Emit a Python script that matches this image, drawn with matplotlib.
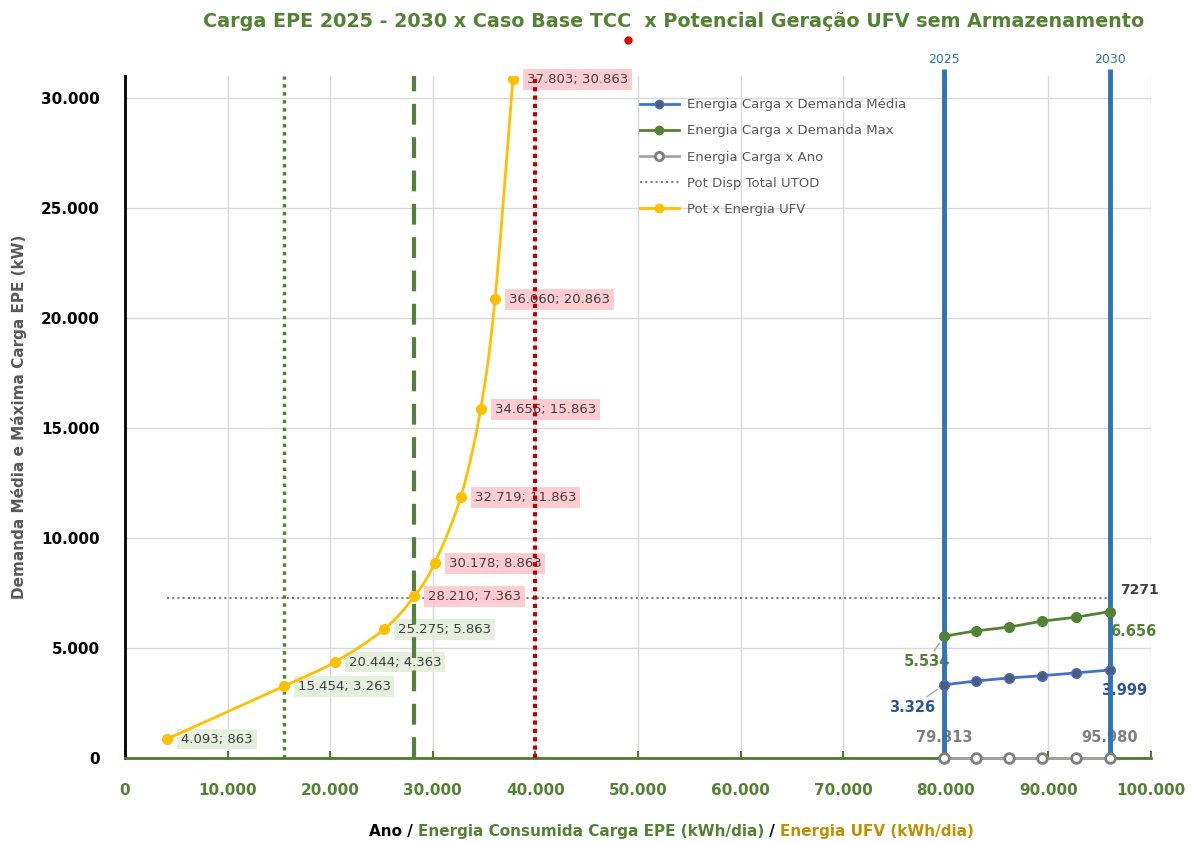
import numpy as np
import matplotlib
matplotlib.use("Agg")
import matplotlib.pyplot as plt
from matplotlib.ticker import FuncFormatter, MultipleLocator
from matplotlib.offsetbox import TextArea, HPacker, AnchoredOffsetbox
from matplotlib.lines import Line2D

# --- data ---
ufv_energia = [4093, 15454, 20444, 25275, 28210, 30178, 32719, 34656, 36060, 37803]
ufv_pot = [863, 3263, 4363, 5863, 7363, 8863, 11863, 15863, 20863, 30863]

carga_energia = [79813, 82900, 86160, 89340, 92670, 95980]
demanda_media = [3326, 3500, 3640, 3740, 3870, 3999]
demanda_max = [5534, 5780, 5950, 6220, 6400, 6656]
anos = [2025, 2026, 2027, 2028, 2029, 2030]

pot_disp_utod = 7271
vline_green_dot = 15454
vline_green_dash = 28210
vline_red = 40000

GREEN = "#548235"
YELLOW = "#FFC000"
BLUE = "#4472C4"
BLUE_V = "#2E75B6"
RED = "#C00000"
GRAY = "#7F7F7F"
DARK = "#404040"


def fmt_br(v):
    return f"{v:,.0f}".replace(",", ".")


def catmull_rom(xs, ys, n=30):
    """Smooth line through the points (like Excel's smoothed line)"""
    p = np.column_stack([xs, ys]).astype(float)
    p = np.vstack([p[0] - (p[1] - p[0]), p, p[-1] + (p[-1] - p[-2])])
    out = []
    for i in range(1, len(p) - 2):
        p0, p1, p2, p3 = p[i - 1], p[i], p[i + 1], p[i + 2]
        t = np.linspace(0, 1, n)[:, None]
        seg = 0.5 * ((2 * p1) + (-p0 + p2) * t + (2 * p0 - 5 * p1 + 4 * p2 - p3) * t ** 2
                     + (-p0 + 3 * p1 - 3 * p2 + p3) * t ** 3)
        out.append(seg)
    s = np.vstack(out)
    return s[:, 0], s[:, 1]


fig = plt.figure(figsize=(11.99, 8.43), dpi=100)
ax = fig.add_axes([0.1043, 0.1008, 0.8557, 0.809])
ax.set_xlim(0, 100000)
ax.set_ylim(0, 31000)

ax.xaxis.set_major_locator(MultipleLocator(10000))
ax.yaxis.set_major_locator(MultipleLocator(5000))
ax.xaxis.set_major_formatter(FuncFormatter(lambda v, p: fmt_br(v)))
ax.yaxis.set_major_formatter(FuncFormatter(lambda v, p: fmt_br(v)))
ax.grid(True, color="#D9D9D9", linewidth=1)
ax.set_axisbelow(True)

for s in ["top", "right"]:
    ax.spines[s].set_visible(False)
ax.spines["left"].set_color("black")
ax.spines["left"].set_linewidth(2)
ax.spines["bottom"].set_color("#4E7A2E")
ax.spines["bottom"].set_linewidth(2)

ax.tick_params(axis="x", direction="in", length=5, width=1.5, color="#4E7A2E",
               pad=18, labelsize=11, labelcolor=GREEN)
ax.tick_params(axis="y", length=0, pad=18, labelsize=11, labelcolor="black")
for lab in ax.get_xticklabels() + ax.get_yticklabels():
    lab.set_fontweight("bold")

# vertical reference lines (drawn over the data labels, as in the reference)
ax.axvline(vline_green_dot, color=GREEN, linestyle=(0, (1, 1.3)), linewidth=2.5, zorder=4)
ax.axvline(vline_green_dash, color=GREEN, linestyle=(0, (5, 3)), linewidth=3, zorder=4)
ax.axvline(vline_red, color=RED, linestyle=(0, (1, 1)), linewidth=3, zorder=4)
for xv, yr in [(carga_energia[0], anos[0]), (carga_energia[-1], anos[-1])]:
    ax.plot([xv, xv], [0, 31300], color=BLUE_V, linewidth=3.5, zorder=4, clip_on=False,
            solid_capstyle="butt")
    ax.text(xv, 31450, str(yr), color=BLUE_V, fontsize=9, ha="center", va="bottom",
            clip_on=False)

# horizontal UTOD line
ax.plot([ufv_energia[0], carga_energia[-1]], [pot_disp_utod, pot_disp_utod],
        color=GRAY, linestyle=(0, (1, 1.5)), linewidth=1.5, zorder=2)
ax.text(97000, pot_disp_utod + 350, str(pot_disp_utod), color=DARK, fontsize=10,
        fontweight="bold", ha="left", va="center")

# UFV curve
sx, sy = catmull_rom(ufv_energia, ufv_pot)
ax.plot(sx, sy, color=YELLOW, linewidth=2, zorder=5)
ax.plot(ufv_energia, ufv_pot, "o", color=YELLOW, markersize=7, zorder=6)
for x, y in zip(ufv_energia, ufv_pot):
    bg = "#FFC7CE" if y > pot_disp_utod else "#E2EFDA"
    ax.annotate(f"{fmt_br(x)}; {fmt_br(y)}", (x, y), xytext=(10, 0),
                textcoords="offset points", fontsize=9.5, color=DARK, va="center",
                ha="left", zorder=3,
                bbox=dict(boxstyle="square,pad=0.3", fc=bg, ec="none", alpha=0.9))

# carga series
ax.plot(carga_energia, demanda_max, "-o", color=GREEN, linewidth=2, markersize=7, zorder=5)
ax.plot(carga_energia, demanda_media, "-o", color=BLUE, linewidth=2, markersize=7,
        markerfacecolor="#4E5B7A", markeredgecolor=BLUE, zorder=5)
ax.plot(carga_energia, [0] * len(carga_energia), "-o", color="#A5A5A5", linewidth=2,
        markersize=7, markerfacecolor="white", markeredgecolor=GRAY,
        markeredgewidth=2, zorder=6, clip_on=False)

lead = dict(arrowstyle="-", color="#A5A5A5", lw=1, shrinkA=0, shrinkB=6)
ax.annotate(fmt_br(demanda_max[0]), (carga_energia[0], demanda_max[0]), xytext=(-12, -18),
            textcoords="offset points", color=GREEN, fontsize=10.5, fontweight="bold",
            ha="center", va="center", arrowprops=lead)
ax.annotate(fmt_br(demanda_max[-1]), (carga_energia[-1], demanda_max[-1]), xytext=(17, -14.5),
            textcoords="offset points", color=GREEN, fontsize=10.5, fontweight="bold",
            ha="center", va="center")
ax.annotate(fmt_br(demanda_media[0]), (carga_energia[0], demanda_media[0]), xytext=(-23, -16),
            textcoords="offset points", color="#2F5597", fontsize=10.5, fontweight="bold",
            ha="center", va="center", arrowprops=lead)
ax.annotate(fmt_br(demanda_media[-1]), (carga_energia[-1], demanda_media[-1]), xytext=(10, -14.5),
            textcoords="offset points", color="#2F5597", fontsize=10.5, fontweight="bold",
            ha="center", va="center")
for xv in [carga_energia[0], carga_energia[-1]]:
    ax.annotate(fmt_br(xv), (xv, 0), xytext=(0, 15), textcoords="offset points",
                color=GRAY, fontsize=10.5, fontweight="bold", ha="center", va="center",
                zorder=3)

# legend
handles = [
    Line2D([], [], color=BLUE, marker="o", markerfacecolor="#4E5B7A", markeredgecolor=BLUE, lw=2),
    Line2D([], [], color=GREEN, marker="o", lw=2),
    Line2D([], [], color="#A5A5A5", marker="o", markerfacecolor="white",
           markeredgecolor=GRAY, markeredgewidth=2, lw=2),
    Line2D([], [], color=GRAY, linestyle=(0, (1, 1.5)), lw=1.5),
    Line2D([], [], color=YELLOW, marker="o", lw=2),
]
labels = ["Energia Carga x Demanda Média", "Energia Carga x Demanda Max",
          "Energia Carga x Ano", "Pot Disp Total UTOD", "Pot x Energia UFV"]
leg = ax.legend(handles, labels, loc="upper left", bbox_to_anchor=(0.49, 0.985),
                frameon=False, fontsize=9.5, labelcolor="#595959", handlelength=3.0,
                handletextpad=0.6, labelspacing=1.0)
leg.set_zorder(8)

# axis labels
ax.set_ylabel("Demanda Média e Máxima Carga EPE (kW)", fontsize=11, fontweight="bold",
              color="#595959", labelpad=10)

parts = [TextArea("Ano / ", textprops=dict(color="black", fontsize=11, fontweight="bold")),
         TextArea("Energia Consumida Carga EPE (kWh/dia)",
                  textprops=dict(color=GREEN, fontsize=11, fontweight="bold")),
         TextArea(" / ", textprops=dict(color="black", fontsize=11, fontweight="bold")),
         TextArea("Energia UFV (kWh/dia)",
                  textprops=dict(color="#BF9000", fontsize=11, fontweight="bold"))]
box = HPacker(children=parts, align="baseline", pad=0, sep=0)
anchored = AnchoredOffsetbox(loc="center", child=box, frameon=False,
                             bbox_to_anchor=(0.56, 0.014), bbox_transform=fig.transFigure,
                             borderpad=0)
fig.add_artist(anchored)

fig.text(0.562, 0.974, "Carga EPE 2025 - 2030 x Caso Base TCC  x Potencial Geração UFV sem Armazenamento",
         color=GREEN, fontsize=13.8, fontweight="bold", ha="center", va="center")
fig.add_artist(Line2D([0.524], [0.952], marker="o", markersize=5, color="#E00000",
                      transform=fig.transFigure))

fig.savefig("out.png", dpi=100)
